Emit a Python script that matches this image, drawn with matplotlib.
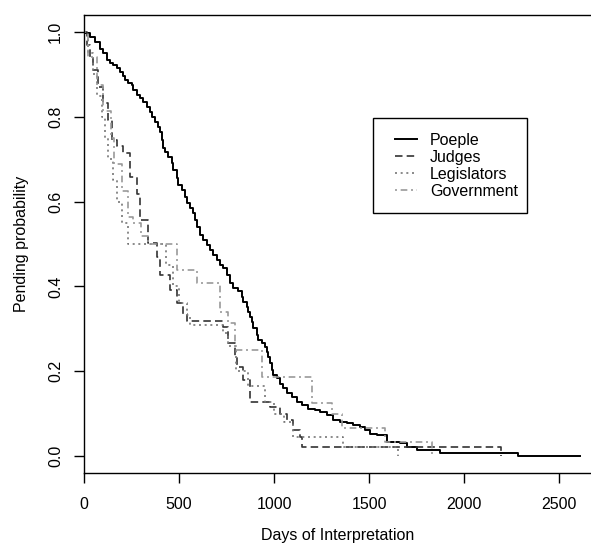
import matplotlib
matplotlib.use("Agg")
import matplotlib.pyplot as plt
from matplotlib.patches import Rectangle

plt.rcParams['font.family'] = ['Liberation Sans', 'DejaVu Sans']

# Kaplan-Meier style step data (day, pending probability)
people_days = [0, 5, 32, 58, 84, 102, 119, 137, 154, 172, 189, 207, 216, 233, 251, 260, 277,
               295, 312, 330, 347, 356, 374, 391, 400, 409, 417, 426, 444, 461, 470, 488, 496,
               514, 532, 540, 558, 575, 584, 593, 611, 628, 646, 663, 681, 698, 716, 733, 751,
               768, 786, 812, 830, 839, 856, 865, 874, 882, 891, 909, 918, 935, 953, 962, 970,
               979, 988, 996, 1014, 1032, 1049, 1067, 1093, 1119, 1146, 1181, 1216, 1242, 1277,
               1312, 1347, 1383, 1418, 1453, 1479, 1505, 1540, 1593, 1663, 1698, 1751, 1874,
               2286, 2610]
people_prob = [1.0, 0.997, 0.989, 0.977, 0.961, 0.950, 0.934, 0.926, 0.922, 0.914, 0.906,
               0.895, 0.887, 0.879, 0.875, 0.863, 0.851, 0.844, 0.836, 0.824, 0.812, 0.800,
               0.788, 0.777, 0.765, 0.745, 0.726, 0.718, 0.706, 0.690, 0.675, 0.655, 0.639,
               0.627, 0.612, 0.596, 0.584, 0.572, 0.557, 0.541, 0.521, 0.509, 0.498, 0.486,
               0.474, 0.462, 0.450, 0.443, 0.427, 0.407, 0.396, 0.388, 0.376, 0.364, 0.352,
               0.340, 0.329, 0.317, 0.301, 0.285, 0.274, 0.266, 0.258, 0.246, 0.234, 0.219,
               0.203, 0.191, 0.183, 0.171, 0.160, 0.148, 0.140, 0.128, 0.120, 0.112, 0.108,
               0.104, 0.097, 0.085, 0.081, 0.077, 0.073, 0.069, 0.061, 0.053, 0.050, 0.034,
               0.030, 0.022, 0.014, 0.006, 0.0, 0.0]

judges_days = [0, 15, 32, 49, 75, 102, 128, 146, 175, 207, 242, 277, 295, 338, 382, 400, 453,
               488, 523, 540, 733, 758, 795, 803, 839, 874, 979, 1032, 1067, 1102, 1137, 1146,
               2193, 2193]
judges_prob = [1.0, 0.97, 0.942, 0.91, 0.87, 0.832, 0.792, 0.745, 0.73, 0.714, 0.659, 0.619,
               0.557, 0.502, 0.47, 0.427, 0.392, 0.36, 0.336, 0.319, 0.305, 0.266, 0.234, 0.21,
               0.179, 0.128, 0.116, 0.1, 0.085, 0.061, 0.045, 0.022, 0.0, 0.0]

legis_days = [0, 20, 45, 70, 95, 110, 125, 150, 175, 200, 233, 420, 430, 470, 500, 540, 560,
              733, 760, 800, 864, 953, 1000, 1050, 1102, 1365, 1650, 1650]
legis_prob = [1.0, 0.95, 0.9, 0.85, 0.8, 0.75, 0.7, 0.65, 0.6, 0.55, 0.5, 0.5, 0.45, 0.4,
              0.36, 0.333, 0.31, 0.29, 0.26, 0.2, 0.164, 0.128, 0.1, 0.08, 0.045, 0.022, 0.0, 0.0]

gov_days = [0, 20, 70, 100, 140, 160, 200, 230, 260, 300, 338, 488, 593, 716, 760, 795, 935,
            1198, 1303, 1356, 1584, 1830, 1830]
gov_prob = [1.0, 0.94, 0.875, 0.8125, 0.75, 0.6875, 0.625, 0.5625, 0.55, 0.52, 0.5, 0.439,
            0.408, 0.34, 0.313, 0.25, 0.187, 0.124, 0.1, 0.065, 0.032, 0.0, 0.0]

labels = ["Poeple", "Judges", "Legislators", "Government"]

W, H = 591, 549
fig = plt.figure(figsize=(W / 100, H / 100), dpi=100)
ax = fig.add_axes([84 / W, (H - 473) / H, 1.0 - 84 / W, (473 - 15) / H])

ax.plot(people_days, people_prob, drawstyle='steps-post', color='black', lw=1.4,
        label=labels[0])
ax.plot(judges_days, judges_prob, drawstyle='steps-post', color='#333333', lw=1.2,
        linestyle=(0, (4.5, 2.5)), label=labels[1])
ax.plot(legis_days, legis_prob, drawstyle='steps-post', color='#777777', lw=1.2,
        linestyle=(0, (1.2, 2.2)), label=labels[2])
ax.plot(gov_days, gov_prob, drawstyle='steps-post', color='#999999', lw=1.2,
        linestyle=(0, (1.2, 2.2, 4, 2.2)), label=labels[3])

ax.set_xlim(0, 2668)
ax.set_ylim(-0.040, 1.040)
ax.spines['right'].set_visible(False)
for s in ax.spines.values():
    s.set_linewidth(1.0)

ax.set_xticks([0, 500, 1000, 1500, 2000, 2500])
ax.set_yticks([0.0, 0.2, 0.4, 0.6, 0.8, 1.0])
ax.set_yticklabels(["0.0", "0.2", "0.4", "0.6", "0.8", "1.0"], rotation=90, va='center')
ax.tick_params(axis='both', direction='out', length=7, width=1.0, labelsize=11.5,
               colors='black')
ax.tick_params(axis='x', pad=10)
ax.tick_params(axis='y', pad=8)
ax.set_xlabel("Days of Interpretation", fontsize=11.5, labelpad=12)
ax.set_ylabel("Pending probability", fontsize=11.5, labelpad=14)

leg = ax.legend(loc='upper left', bbox_to_anchor=(395 / W, (H - 133) / H),
                bbox_transform=fig.transFigure, fontsize=11.5, frameon=False,
                handlelength=1.4, handletextpad=0.8, labelspacing=0.125,
                borderpad=0, borderaxespad=0)
fig.add_artist(Rectangle((373 / W, (H - 213) / H), (527 - 373) / W, (213 - 118) / H,
                         transform=fig.transFigure, fill=False, lw=1.0,
                         edgecolor='black'))

fig.savefig("out.png", dpi=100)
